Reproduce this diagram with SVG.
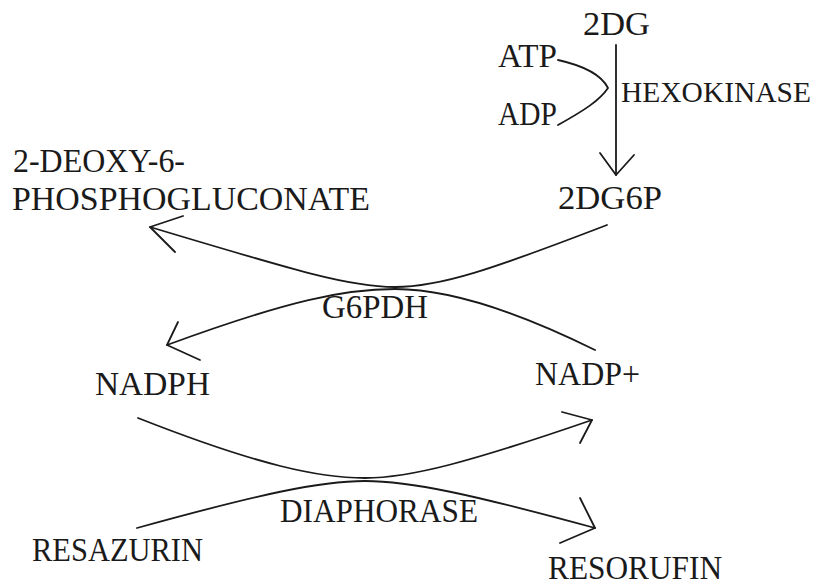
<svg xmlns="http://www.w3.org/2000/svg" width="827" height="585" viewBox="0 0 827 585">
<style>
text{font-family:"Liberation Serif","Times New Roman",serif;font-size:33px;fill:#1a1a1a;}
.c{fill:none;stroke:#1a1a1a;stroke-width:1.8;stroke-linecap:round;stroke-linejoin:round;}
</style>
<rect width="827" height="585" fill="#ffffff"/>
<g id="n-2dg"><text x="583" y="35" textLength="67" lengthAdjust="spacingAndGlyphs">2DG</text></g>
<g id="n-atp"><text x="498" y="67" textLength="59" lengthAdjust="spacingAndGlyphs">ATP</text></g>
<g id="n-adp"><text x="498" y="125" textLength="59" lengthAdjust="spacingAndGlyphs">ADP</text></g>
<g id="n-hexokinase"><text x="621" y="102" style="font-size:29.5px" textLength="190" lengthAdjust="spacingAndGlyphs">HEXOKINASE</text></g>
<g id="n-2dg6p"><text x="558" y="209" textLength="104" lengthAdjust="spacingAndGlyphs">2DG6P</text></g>
<g id="n-2d6pg"><text x="13" y="172" textLength="172" lengthAdjust="spacingAndGlyphs">2-DEOXY-6-</text><text x="12" y="210" textLength="358" lengthAdjust="spacingAndGlyphs">PHOSPHOGLUCONATE</text></g>
<g id="n-g6pdh"><text x="322" y="318" textLength="106" lengthAdjust="spacingAndGlyphs">G6PDH</text></g>
<g id="n-nadph"><text x="95" y="395" textLength="115" lengthAdjust="spacingAndGlyphs">NADPH</text></g>
<g id="n-nadp"><text x="535" y="385" textLength="105" lengthAdjust="spacingAndGlyphs">NADP+</text></g>
<g id="n-diaphorase"><text x="280" y="522" textLength="198" lengthAdjust="spacingAndGlyphs">DIAPHORASE</text></g>
<g id="n-resazurin"><text x="32" y="561" textLength="171" lengthAdjust="spacingAndGlyphs">RESAZURIN</text></g>
<g id="n-resorufin"><text x="548" y="579" textLength="174" lengthAdjust="spacingAndGlyphs">RESORUFIN</text></g>
<g id="connectors">
<path class="c" d="M616,45 L616,175"/>
<polyline class="c" points="600,153 616,175 634,155"/>
<path class="c" d="M558,60 C585,66 602,76 608,88 C600,100 585,110 558,125"/>
<path class="c" d="M607,225 C490,270 440,287 395,287 C350,287 300,272 150,227"/>
<polyline class="c" points="183,216 150,227 175,252"/>
<path class="c" d="M595,350 C510,308 445,289 395,289 C345,289 290,300 167,345"/>
<polyline class="c" points="178,322 167,345 200,360"/>
<path class="c" d="M138,418 C260,466 320,478 365,478 C410,478 470,462 592,420"/>
<polyline class="c" points="562,412 592,420 580,443"/>
<path class="c" d="M137,528 C260,494 320,481 365,481 C410,481 470,494 595,528"/>
<polyline class="c" points="580,498 595,528 560,543"/>
</g>
</svg>
